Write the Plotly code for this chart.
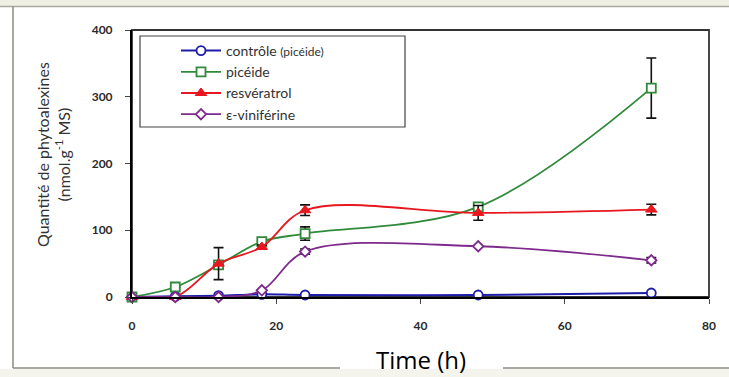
import plotly.graph_objects as go

# Time points (h)
hours = [0, 6, 12, 18, 24, 48, 72]

# Phytoalexin content (nmol.g-1 MS)
controle = [0, 1, 2, 4, 3, 3, 6]
piceide = [0, 15, 48, 83, 95, 135, 313]
piceide_err = [0, 0, 0, 0, 10, 5, 45]
resveratrol = [0, 0, 50, 75, 130, 126, 131]
resveratrol_err = [0, 0, 24, 3, 8, 11, 8]
viniferine = [0, 0, 0, 10, 68, 76, 55]
viniferine_err = [0, 0, 0, 0, 4, 0, 4]

x_ticks = [0, 20, 40, 60, 80]
y_ticks = [0, 100, 200, 300, 400]

W, H = 729, 377
L, R, T, B = 132, 20, 30, 80
PW, PH = W - L - R, H - T - B


def px(x):
    return (x - L) / PW


def py(y):
    return (H - B - y) / PH


def err(vals):
    return dict(type="data", array=vals, visible=True, color="#111111",
                thickness=1.6, width=5)


fig = go.Figure()

fig.add_trace(go.Scatter(
    x=hours, y=controle, name="contrôle <span style='font-size:12px'>(picéide)</span>",
    mode="lines+markers", line=dict(color="#1c1ca8", width=2, shape="spline"),
    marker=dict(symbol="circle", size=9, color="white",
                line=dict(color="#1c1ca8", width=1.8)),
    cliponaxis=False))

fig.add_trace(go.Scatter(
    x=hours, y=piceide, name="picéide", error_y=err(piceide_err),
    mode="lines+markers", line=dict(color="#2f8a3a", width=1.8, shape="spline"),
    marker=dict(symbol="square", size=9, color="white",
                line=dict(color="#2f8a3a", width=1.8)),
    cliponaxis=False))

fig.add_trace(go.Scatter(
    x=hours, y=resveratrol, name="resvératrol", error_y=err(resveratrol_err),
    mode="lines+markers", line=dict(color="#e8161e", width=1.8, shape="spline"),
    marker=dict(symbol="triangle-up", size=10, color="#e8161e",
                line=dict(color="#e8161e", width=1)),
    cliponaxis=False))

fig.add_trace(go.Scatter(
    x=hours, y=viniferine, name="ε-viniférine", error_y=err(viniferine_err),
    mode="lines+markers", line=dict(color="#7d2a8c", width=1.8, shape="spline"),
    marker=dict(symbol="diamond", size=8, color="white",
                line=dict(color="#7d2a8c", width=1.8)),
    cliponaxis=False))

tick_font = dict(family="Lato", size=12, color="#2a2a2a", weight="bold")

fig.update_xaxes(
    range=[0, 80], tickvals=x_ticks, ticktext=[str(v) for v in x_ticks],
    showline=True, linecolor="black", linewidth=2, ticks="outside",
    ticklen=5, tickwidth=1, tickcolor="#444", showgrid=False, zeroline=False,
    tickfont=tick_font, ticklabelstandoff=12)

fig.update_yaxes(
    range=[0, 400], tickvals=y_ticks, ticktext=[str(v) for v in y_ticks],
    showline=True, linecolor="black", linewidth=2, ticks="outside",
    ticklen=5, tickwidth=1, tickcolor="#444", showgrid=False, zeroline=False,
    tickfont=tick_font, ticklabelstandoff=10)

shapes = [
    # top band and outer frame
    dict(type="rect", xref="paper", yref="paper", x0=px(0), x1=px(W),
         y0=py(0), y1=py(6), fillcolor="#efefe4", line=dict(width=0), layer="below"),
    dict(type="line", xref="paper", yref="paper", x0=px(0), x1=px(W),
         y0=py(6.5), y1=py(6.5), line=dict(color="#a8a89c", width=1.5)),
    dict(type="line", xref="paper", yref="paper", x0=px(13), x1=px(13),
         y0=py(6.5), y1=py(368), line=dict(color="#8c8c84", width=1.5)),
    dict(type="line", xref="paper", yref="paper", x0=px(13), x1=px(340),
         y0=py(368), y1=py(368), line=dict(color="#8c8c84", width=1.5)),
    dict(type="line", xref="paper", yref="paper", x0=px(503), x1=px(W),
         y0=py(368), y1=py(368), line=dict(color="#8c8c84", width=1.5)),
    dict(type="rect", xref="paper", yref="paper", x0=px(0), x1=px(W),
         y0=py(369), y1=py(H), fillcolor="#f4f4ec", line=dict(width=0), layer="below"),
    # plot frame (top/right)
    dict(type="rect", xref="paper", yref="paper", x0=0, x1=1, y0=0, y1=1,
         line=dict(color="#333333", width=1.8), layer="below"),
    # legend box
    dict(type="rect", xref="paper", yref="paper", x0=px(140), x1=px(405),
         y0=py(36), y1=py(127), line=dict(color="#444444", width=1.2),
         fillcolor="white", layer="below"),
]

annotations = [
    dict(text="Quantité de phytoalexines<br>(nmol.g<sup>-1</sup> MS)",
         xref="paper", yref="paper", x=px(53), y=py(155), textangle=-90,
         showarrow=False, font=dict(family="Lato", size=16, color="#333333"),
         xanchor="center", yanchor="middle"),
    dict(text="Time (h)", xref="paper", yref="paper", x=px(421), y=py(359),
         showarrow=False, font=dict(family="Open Sans", size=24, color="black"),
         xanchor="center", yanchor="middle"),
]

fig.update_layout(
    width=W, height=H, margin=dict(l=L, r=R, t=T, b=B),
    paper_bgcolor="white", plot_bgcolor="white",
    showlegend=True,
    legend=dict(x=px(176), y=py(35), xanchor="left", yanchor="top",
                bgcolor="rgba(0,0,0,0)", borderwidth=0,
                font=dict(family="Lato", size=14, color="#333333"),
                tracegroupgap=0, itemwidth=40),
    shapes=shapes, annotations=annotations,
)

fig.write_html("out.html")
